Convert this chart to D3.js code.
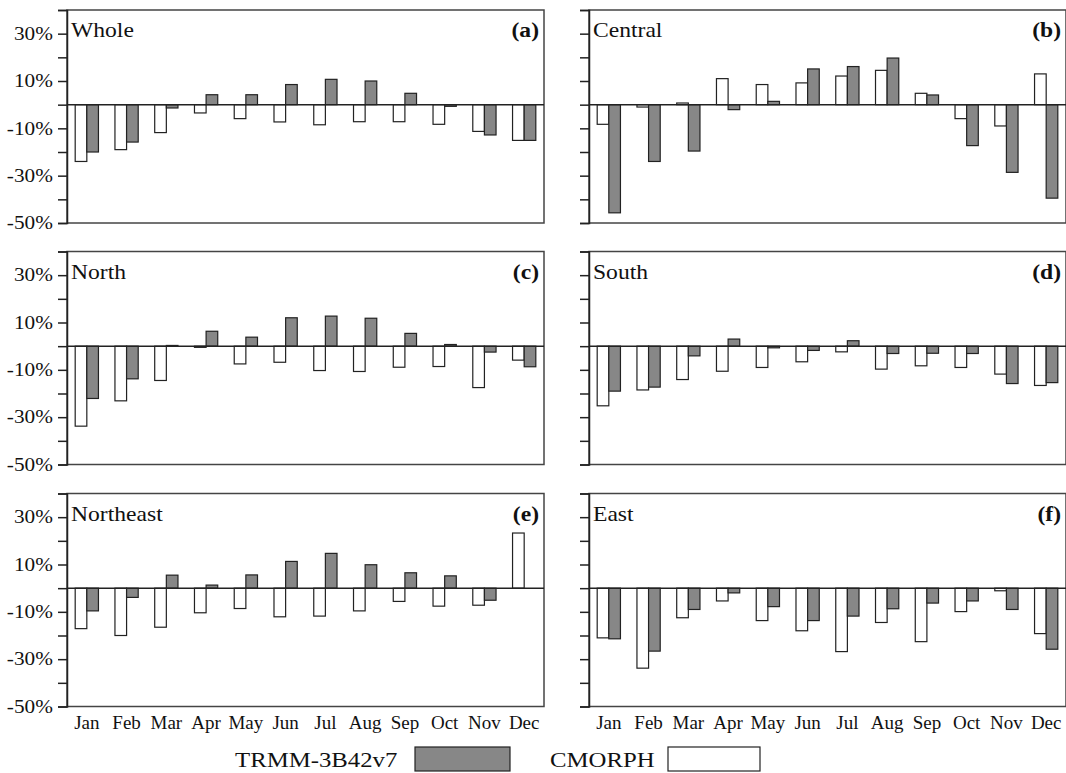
<!DOCTYPE html>
<html>
<head>
<meta charset="utf-8">
<script src="https://cdn.jsdelivr.net/npm/d3@7"></script>
<style>
  body { margin: 0; background: #fff; }
  svg { font-family: "Liberation Serif", "Times New Roman", serif; }
</style>
</head>
<body>
<svg id="chart"></svg>
<script>
var width = 1066;
var height = 773;

var months = ["Jan","Feb","Mar","Apr","May","Jun","Jul","Aug","Sep","Oct","Nov","Dec"];
var regions = ["Whole","Central","North","South","Northeast","East"];
var tags = ["(a)","(b)","(c)","(d)","(e)","(f)"];
var seriesNames = ["CMORPH","TRMM-3B42v7"];
var yTicks = [-50,-40,-30,-20,-10,0,10,20,30,40];
var yLabels = [-50,-30,-10,10,30];

// relative bias (%) per month
var wholeTrmm     = [-20.0,-15.8,-1.4, 4.2, 4.2, 8.5,10.7,10.0, 4.8,-0.7,-12.8,-15.1];
var wholeCmorph   = [-24.0,-19.0,-11.8,-3.5,-5.9,-7.3,-8.5,-7.2,-7.2,-8.3,-11.3,-15.1];
var centralTrmm   = [-45.7,-24.0,-19.6,-2.1, 1.4,15.1,16.1,19.7, 4.1,-17.3,-28.6,-39.5];
var centralCmorph = [-8.3,-1.0, 0.7,11.0, 8.5, 9.2,12.1,14.5, 4.8,-5.9,-9.0,13.0];
var northTrmm     = [-22.1,-13.8, 0.3, 6.3, 3.8,12.0,12.7,11.8, 5.4, 0.7,-2.5,-8.7];
var northCmorph   = [-33.8,-23.1,-14.5,-0.5,-7.5,-6.8,-10.3,-10.7,-8.9,-8.6,-17.5,-5.9];
var southTrmm     = [-19.0,-17.3,-4.1, 3.0,-0.7,-1.8, 2.3,-3.1,-3.0,-3.1,-15.8,-15.4];
var southCmorph   = [-25.2,-18.5,-14.1,-10.6,-9.0,-6.6,-2.4,-9.7,-8.3,-9.0,-11.8,-16.6];
var neTrmm        = [-9.6,-3.9, 5.5, 1.3, 5.6,11.3,14.7, 9.9, 6.5, 5.2,-5.1, 0.0];
var neCmorph      = [-17.1,-20.0,-16.5,-10.4,-8.6,-12.1,-11.8,-9.6,-5.6,-7.6,-7.2,23.3];
var eastTrmm      = [-21.4,-26.6,-9.0,-2.0,-7.8,-13.7,-11.8,-8.7,-6.3,-5.4,-9.0,-25.8];
var eastCmorph    = [-21.0,-33.8,-12.5,-5.4,-13.7,-18.0,-26.8,-14.5,-22.6,-9.9,-1.1,-19.2];

var trmmByRegion = [wholeTrmm, centralTrmm, northTrmm, southTrmm, neTrmm, eastTrmm];
var cmorphByRegion = [wholeCmorph, centralCmorph, northCmorph, southCmorph, neCmorph, eastCmorph];

var colX = [67, 589];
var rowY = [10, 251.5, 493.5];
var pw = 477;
var ph = 213;
var colors = { "CMORPH": "#ffffff", "TRMM-3B42v7": "#878787" };
var stretch = "scale(1.18,1)";

var svg = d3.select("#chart").attr("width", width).attr("height", height);

var x0 = d3.scaleBand().domain(months).range([0, pw]).paddingInner(0.415).paddingOuter(0.206);
var x1 = d3.scaleBand().domain(seriesNames).range([0, x0.bandwidth()]);
var y = d3.scaleLinear().domain([-50, 40]).range([ph, 0]);

regions.forEach(function(name, i) {
  var col = i % 2, row = Math.floor(i / 2);
  var g = svg.append("g").attr("transform", "translate(" + colX[col] + "," + rowY[row] + ")");

  var rows = months.map(function(m, j) {
    return { month: m, values: [
      { key: "CMORPH", value: cmorphByRegion[i][j] },
      { key: "TRMM-3B42v7", value: trmmByRegion[i][j] }
    ]};
  });

  // frame
  g.append("rect")
    .attr("x", 0).attr("y", 0).attr("width", pw).attr("height", ph)
    .attr("fill", "none").attr("stroke", "#444").attr("stroke-width", 1.5);

  // bars
  g.selectAll("g.month")
    .data(rows)
    .enter().append("g")
      .attr("class", "month")
      .attr("transform", function(d) { return "translate(" + x0(d.month) + ",0)"; })
    .selectAll("rect")
    .data(function(d) { return d.values; })
    .enter().append("rect")
      .attr("x", function(d) { return x1(d.key); })
      .attr("y", function(d) { return y(Math.max(0, d.value)); })
      .attr("width", x1.bandwidth())
      .attr("height", function(d) { return Math.abs(y(d.value) - y(0)); })
      .attr("fill", function(d) { return colors[d.key]; })
      .attr("stroke", "#222")
      .attr("stroke-width", 1.2);

  // zero line
  g.append("line")
    .attr("x1", 0).attr("x2", pw)
    .attr("y1", y(0)).attr("y2", y(0))
    .attr("stroke", "#222").attr("stroke-width", 1.5);

  // y axis
  var yAxis = g.append("g")
    .call(d3.axisLeft(y).tickValues(yTicks).tickSize(9).tickPadding(3)
      .tickFormat(function(d) { return (col === 0 && yLabels.indexOf(d) >= 0) ? d + "%" : ""; }));
  yAxis.select(".domain").attr("stroke", "#222").attr("stroke-width", 1.5);
  yAxis.selectAll(".tick line").attr("stroke", "#222").attr("stroke-width", 1.5);
  yAxis.selectAll(".tick text")
    .attr("font-size", 18).attr("fill", "#111")
    .attr("font-family", "Liberation Serif")
    .attr("transform", stretch);

  // region name and panel tag
  g.append("text")
    .attr("transform", "translate(4,27) " + stretch)
    .attr("font-size", 20).attr("fill", "#111")
    .text(name);
  g.append("text")
    .attr("transform", "translate(" + (pw - 5) + ",27) " + stretch)
    .attr("text-anchor", "end")
    .attr("font-size", 20).attr("font-weight", "bold").attr("fill", "#111")
    .text(tags[i]);

  // month labels on bottom row
  if (row === 2) {
    var xAxis = g.append("g")
      .attr("transform", "translate(0," + ph + ")")
      .call(d3.axisBottom(x0).tickSize(0).tickPadding(9));
    xAxis.select(".domain").remove();
    xAxis.selectAll("text")
      .attr("font-size", 19).attr("fill", "#111")
      .attr("font-family", "Liberation Serif");
  }
});

// legend
var legend = svg.append("g");
var legendItems = [
  { key: "TRMM-3B42v7", tx: 235, bx: 415, bw: 95 },
  { key: "CMORPH", tx: 550, bx: 668, bw: 92 }
];
legendItems.forEach(function(d) {
  legend.append("text")
    .attr("transform", "translate(" + d.tx + ",767) " + stretch)
    .attr("font-size", 21).attr("fill", "#111")
    .text(d.key);
  legend.append("rect")
    .attr("x", d.bx).attr("y", 747).attr("width", d.bw).attr("height", 24)
    .attr("fill", colors[d.key]).attr("stroke", "#222").attr("stroke-width", 1.2);
});
</script>
</body>
</html>
